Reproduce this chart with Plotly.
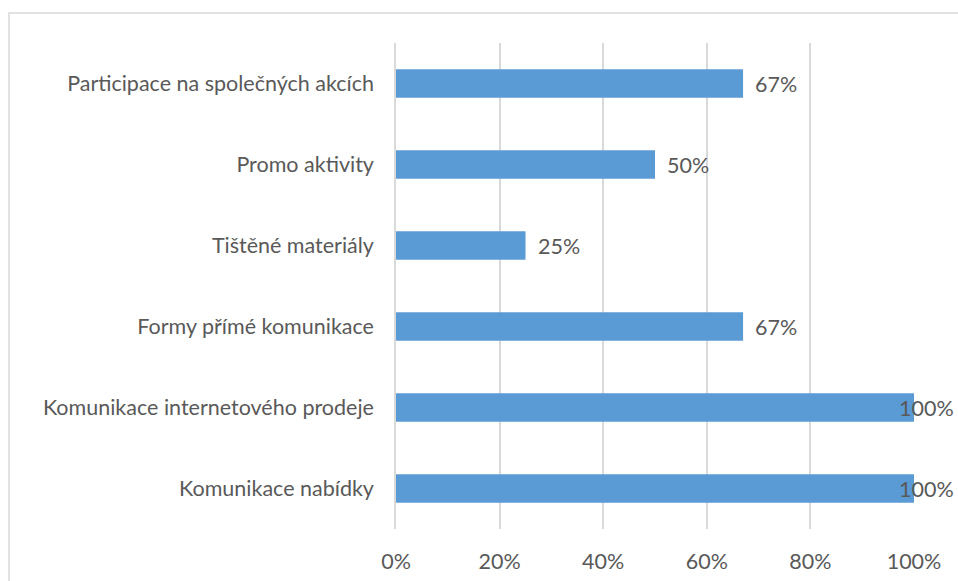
import plotly.graph_objects as go

# Categories listed top to bottom as shown in the chart
categories = [
    "Participace na společných akcích",
    "Promo aktivity",
    "Tištěné materiály",
    "Formy přímé komunikace",
    "Komunikace internetového prodeje",
    "Komunikace nabídky",
]
shares = [0.67, 0.50, 0.25, 0.67, 1.00, 1.00]
tick_vals = [0, 0.2, 0.4, 0.6, 0.8, 1.0]
tick_text = ["0%", "20%", "40%", "60%", "80%", "100%"]

BAR = "#5B9BD5"
GRID = "#D9D9D9"
TEXT = "#595959"
FONT = "Lato"
FS = 21.5

W, H = 958, 581
L, R, T, B = 396, 44, 43, 52

fig = go.Figure(
    go.Bar(
        y=categories,
        x=shares,
        orientation="h",
        marker=dict(color=BAR, line=dict(width=0)),
        hoverinfo="skip",
    )
)

# value labels next to each bar end; full-width bars keep theirs at the edge
for cat, v in zip(categories, shares):
    fig.add_annotation(
        x=v, y=cat, xref="x", yref="y",
        text=f"{round(v * 100)}%",
        showarrow=False, xanchor="left", yanchor="middle",
        xshift=-16 if v >= 1 else 11,
        borderpad=0,
        font=dict(family=FONT, size=FS, color=TEXT),
    )

# light outer chart border
pw = W - L - R
ph = H - T - B
fig.add_shape(
    type="rect", xref="paper", yref="paper",
    x0=(9 - L) / pw, x1=(W + 20 - L) / pw,
    y0=(H - B - (H + 20)) / ph, y1=(H - B - 13) / ph,
    line=dict(color=GRID, width=1.5), fillcolor="rgba(0,0,0,0)",
    layer="below",
)

fig.update_layout(
    width=W, height=H,
    margin=dict(l=L, r=R, t=T, b=B, autoexpand=False),
    paper_bgcolor="white", plot_bgcolor="white",
    bargap=0.65,
    showlegend=False,
    font=dict(family=FONT, size=FS, color=TEXT),
    xaxis=dict(
        range=[0, 1], tickvals=tick_vals, ticktext=tick_text,
        showgrid=True, gridcolor=GRID, gridwidth=1.5,
        zeroline=False, showline=False, automargin=False,
        ticks="outside", ticklen=13, tickcolor="rgba(0,0,0,0)",
        tickfont=dict(family=FONT, size=FS, color=TEXT),
    ),
    yaxis=dict(
        autorange="reversed",
        showgrid=False, zeroline=False, automargin=False,
        showline=True, linecolor=GRID, linewidth=1.5,
        ticks="outside", ticklen=16, tickcolor="rgba(0,0,0,0)",
        tickfont=dict(family=FONT, size=FS, color=TEXT),
    ),
)

fig.write_html("out.html")
